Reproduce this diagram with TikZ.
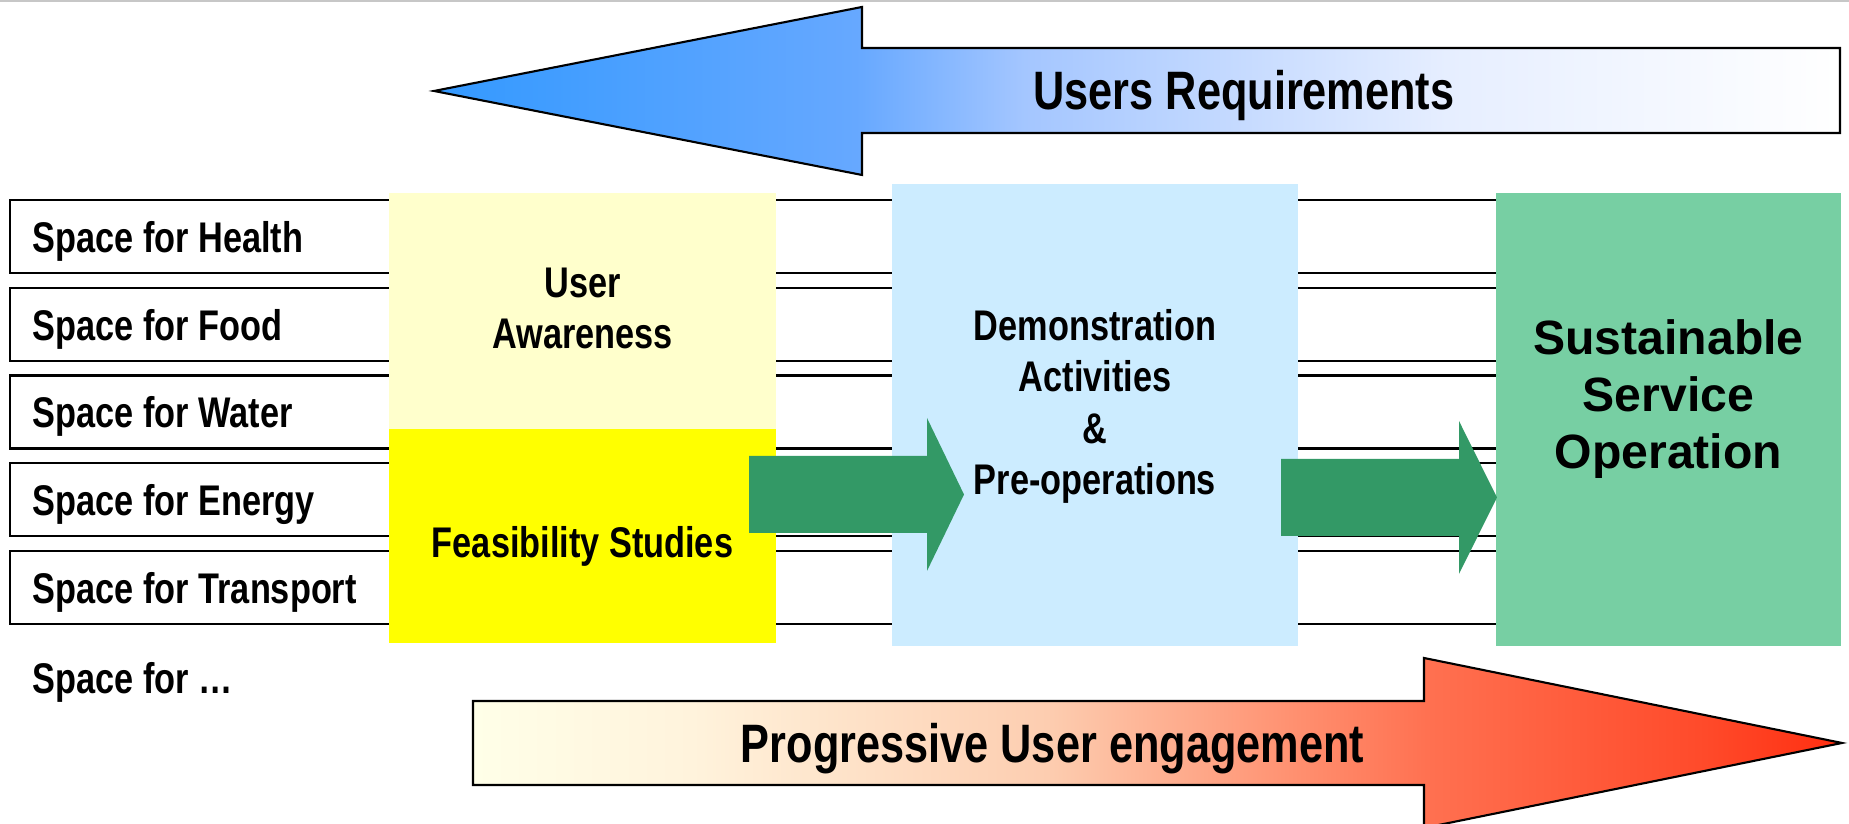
\documentclass[tikz,border=0pt]{standalone}
\usepackage{fontspec}
\setmainfont{Liberation Sans}
\newfontfamily\narrowsans{Liberation Sans}[FakeStretch=0.8]
\usepackage{tikz}
\usetikzlibrary{positioning}

\definecolor{awareyellow}{HTML}{FFFFCC}
\definecolor{feasyellow}{HTML}{FFFF00}
\definecolor{demoblue}{HTML}{CCECFF}
\definecolor{servicegreen}{HTML}{77CFA3}
\definecolor{arrowgreen}{HTML}{339966}
\definecolor{reqA}{HTML}{3399FF}
\definecolor{reqB}{HTML}{66A8FF}
\definecolor{reqC}{HTML}{A4C6FF}
\definecolor{reqD}{HTML}{E6EEFF}
\definecolor{engA}{HTML}{FFFFE8}
\definecolor{engB}{HTML}{FFF3DC}
\definecolor{engC}{HTML}{FDCDB0}
\definecolor{engD}{HTML}{FF9070}
\definecolor{engE}{HTML}{FF7050}
\definecolor{engF}{HTML}{FF4A2A}
\definecolor{engG}{HTML}{FF2E10}

% fades used by the two long arrows
\pgfdeclarehorizontalshading{reqshade}{100bp}{color(0bp)=(reqA); color(25bp)=(reqA); color(40bp)=(reqB); color(46bp)=(reqC); color(61bp)=(reqD); color(75bp)=(white); color(100bp)=(white)}
\pgfdeclarehorizontalshading{engshade}{100bp}{color(0bp)=(engA); color(25bp)=(engA); color(33bp)=(engB); color(46bp)=(engC); color(55bp)=(engD); color(60bp)=(engE); color(70bp)=(engF); color(75bp)=(engG); color(100bp)=(engG)}

\tikzset{
  rowbox/.style={draw, line width=0.6pt, minimum width=15.9cm, minimum height=0.73cm, anchor=north west, inner sep=0pt, outer sep=0pt},
  rowlabel/.style={anchor=base west, inner sep=0pt, font=\narrowsans\bfseries\fontsize{12.2}{14.65}\selectfont},
  stagebox/.style={anchor=north west, inner sep=0pt, outer sep=0pt},
  stagetext/.style={align=center, inner sep=0pt, font=\narrowsans\bfseries\fontsize{12.2}{14.65}\selectfont},
  bigtext/.style={anchor=base, inner sep=0pt, font=\narrowsans\bfseries\fontsize{15.4}{18}\selectfont}
}

\begin{document}
\begin{tikzpicture}
\clip (0,0) rectangle (18.49,8.24);
\draw[black!22, line width=0.6pt] (0,8.23)--(18.49,8.23);

% the application rows
\foreach \lbl [count=\i] in {Health,Food,Water,Energy,Transport}{
\node[rowbox] (row\i) at (0.10,{6.24-(\i-1)*0.8775}) {};
\node[rowlabel] (label\i) at ([xshift=0.22cm,yshift=-0.16cm]row\i.west) {Space for \lbl};
}
\node[rowlabel] (labelmore) at ([yshift=-0.90cm]label5.base west) {Space for …};

% stages
\node[stagebox, fill=awareyellow, minimum width=3.87cm, minimum height=2.36cm] (aware) at (3.89,6.31) {};
\node[stagebox, fill=feasyellow, minimum width=3.87cm, minimum height=2.14cm, anchor=north] (feas) at (aware.south) {};
\node[stagebox, fill=demoblue, minimum width=4.06cm, minimum height=4.62cm] (demo) at (8.92,6.40) {};
\node[stagebox, fill=servicegreen, minimum width=3.45cm, minimum height=4.53cm] (service) at (14.96,6.31) {};

\fill[arrowgreen] (7.49,3.68)--++(1.78,0)--++(0,0.38)--++(0.37,-0.765)--++(-0.37,-0.765)--++(0,0.38)--++(-1.78,0)--cycle;
\fill[arrowgreen] (12.81,3.65)--++(1.78,0)--++(0,0.38)--++(0.38,-0.765)--++(-0.38,-0.765)--++(0,0.38)--++(-1.78,0)--cycle;

\node[stagetext] (awaretext) at ([yshift=0.025cm]aware.center) {User\\Awareness};
\node[stagetext, anchor=base] (feastext) at ([yshift=-0.22cm]feas.center) {Feasibility Studies};
\node[stagetext] (demotext) at ([yshift=0.085cm]demo.center) {Demonstration\\Activities\\\&\\Pre-operations};
\node[stagetext, font=\bfseries\fontsize{13.7}{16.2}\selectfont] (servicetext) at ([yshift=0.20cm]service.center) {Sustainable\\Service\\Operation};

% long arrows
\shadedraw[shading=reqshade, line width=0.6pt] (4.34,7.33)--(8.62,8.17)--++(0,-0.41)--++(9.78,0)--++(0,-0.85)--++(-9.78,0)--++(0,-0.42)--cycle;
\node[bigtext] (req) at (12.44,7.14) {Users Requirements};

\shadedraw[shading=engshade, line width=0.6pt] (4.73,1.23)--++(9.51,0)--++(0,0.43)--(18.42,0.81)--(14.24,-0.04)--++(0,0.43)--++(-9.51,0)--cycle;
\node[bigtext] (engage) at (10.525,0.61) {Progressive User engagement};

\end{tikzpicture}
\end{document}
